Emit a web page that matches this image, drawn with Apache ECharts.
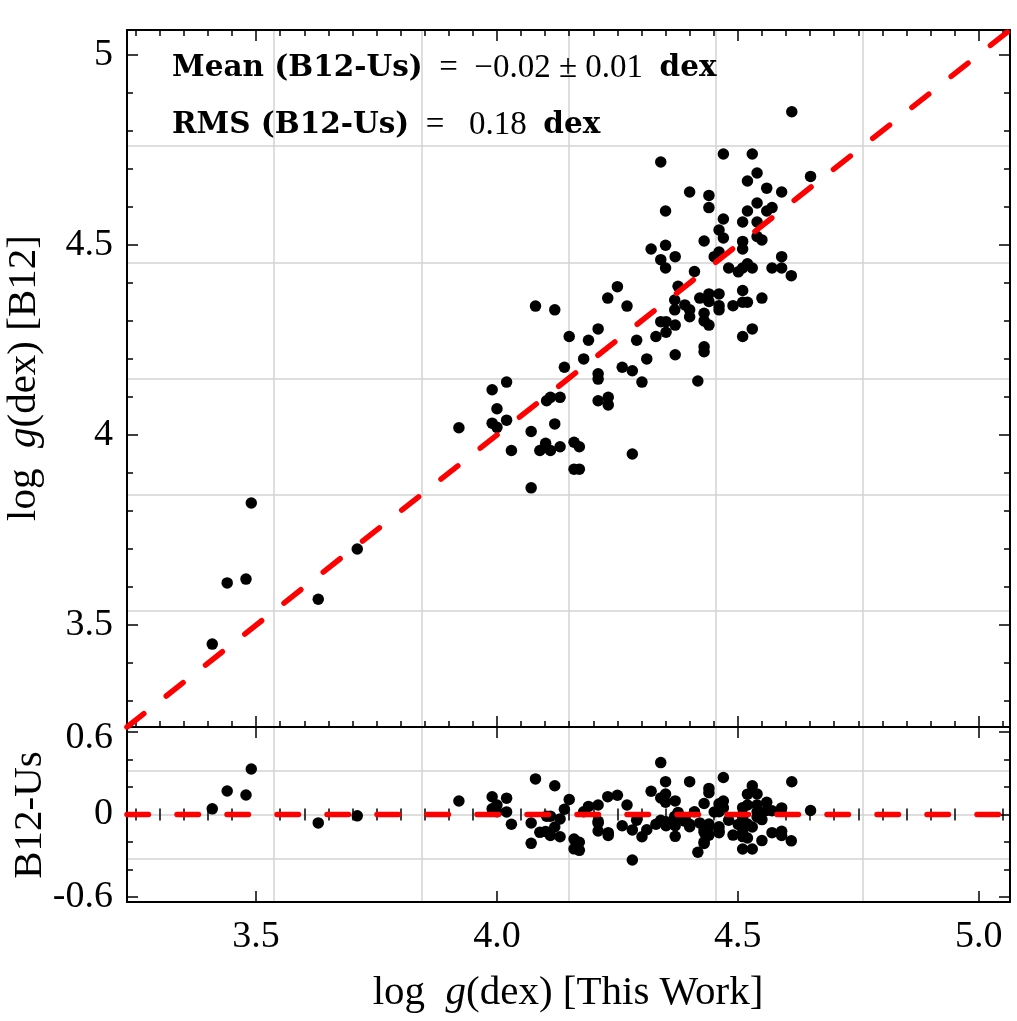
<!DOCTYPE html>
<html><head><meta charset="utf-8">
<script src="https://cdn.jsdelivr.net/npm/echarts@6/dist/echarts.min.js"></script>
<style>html,body{margin:0;padding:0;background:#fff}#c{width:1017px;height:1021px}</style>
</head><body><div id="c"></div><script>
// log g (dex) from This Work (x) and from B12 (y)
const thisWork = [3.409,3.440,3.479,3.490,3.629,3.710,
4.140,4.260,4.281,4.301,4.210,4.210,4.020,3.990,4.000,4.020,3.990,4.000,3.921,4.103,4.111,4.131,4.120,4.071,4.210,4.231,4.231,
4.030,4.089,4.101,4.111,4.131,4.160,4.171,4.160,4.171,4.281,4.071,
4.080,4.120,4.250,4.230,4.270,4.376,4.369,4.369,4.150,4.190,4.210,4.290,4.340,4.351,4.370,4.351,4.330,4.180,4.370,4.311,
4.340,4.470,4.530,4.540,4.520,4.651,4.560,4.591,4.400,4.440,4.440,4.350,4.540,4.520,4.560,4.571,4.470,4.510,4.540,4.461,
4.470,4.430,4.540,4.550,4.510,4.510,4.461,4.451,4.320,4.350,4.370,4.340,4.350,4.481,4.501,4.510,4.520,4.530,4.591,4.571,
4.591,4.611,4.410,4.390,4.400,4.400,4.421,4.440,4.461,4.440,4.461,4.461,4.490,4.510,4.510,4.520,4.550,4.430,4.430,4.440,
4.530,4.510,4.430,4.430,4.612,4.417];
const b12 = [3.450,3.611,3.621,3.821,3.568,3.700,
4.178,4.178,4.169,4.139,4.161,4.147,4.139,4.119,4.069,4.039,4.031,4.020,4.019,4.090,4.099,4.099,4.029,4.009,4.090,4.099,4.079,
3.959,3.959,3.978,3.959,3.969,3.981,3.969,3.910,3.910,3.950,3.861,
4.339,4.329,4.390,4.360,4.339,4.391,4.355,4.329,4.259,4.249,4.279,4.249,4.298,4.298,4.289,4.270,4.259,4.200,4.211,4.200,
4.718,4.739,4.739,4.689,4.668,4.680,4.649,4.639,4.639,4.630,4.598,4.589,4.610,4.589,4.589,4.598,4.568,4.560,4.560,4.539,
4.518,4.510,4.522,4.513,4.509,4.489,4.481,4.469,4.489,4.499,4.469,4.461,4.439,4.439,4.429,4.439,4.450,4.439,4.469,4.439,
4.439,4.419,4.430,4.342,4.329,4.311,4.360,4.371,4.371,4.351,4.340,4.329,4.340,4.380,4.349,4.349,4.360,4.320,4.300,4.289,
4.279,4.259,4.232,4.219,4.850,4.142];

const xTicks = [3.5, 4.0, 4.5, 5.0];
const yTicks = [3.5, 4, 4.5, 5];
const rTicks = [-0.6, 0, 0.6];
const rMinorTicks = [-0.4, -0.2, 0.2, 0.4];
const lim = [3.232, 5.065];
const rLim = [-0.637, 0.637];

const xMinorTicks = [], yMinorTicks = [];
for (let i = 65; i <= 101; i++) { const v = +(i * 0.05).toFixed(2); if (!xTicks.includes(v)) xMinorTicks.push(v); }
for (let i = 33; i <= 50; i++) { const v = +(i * 0.1).toFixed(1); if (!yTicks.includes(v)) yMinorTicks.push(v); }

const mainPts = thisWork.map((x, i) => [x, b12[i]]);
const resPts = thisWork.map((x, i) => [x, +(b12[i] - x).toFixed(3)]);

const FONT = '"Liberation Serif", "Times New Roman", serif';
const BOLD = '"DejaVu Serif", serif';
const BLACK = '#000';
const tickStyle = { color: BLACK, width: 1.5 };
const gridColor = '#d3d3d3';

function xAxes(g, showLabel) {
  const base = { gridIndex: g, type: 'value', min: lim[0], max: lim[1], splitLine: { show: false } };
  return [
    Object.assign({}, base, { position: 'bottom',
      axisLine: { show: true, onZero: false, lineStyle: { color: BLACK, width: 2 } },
      axisTick: { show: true, inside: true, length: 11, customValues: xTicks, lineStyle: tickStyle },
      axisLabel: { show: showLabel, customValues: xTicks, margin: 16, color: BLACK, fontFamily: FONT, fontSize: 38,
        formatter: v => v.toFixed(1) } }),
    Object.assign({}, base, { position: 'bottom', axisLine: { show: false },
      axisTick: { show: true, inside: true, length: 6, customValues: xMinorTicks, lineStyle: tickStyle },
      axisLabel: { show: false } }),
    Object.assign({}, base, { position: 'top',
      axisLine: { show: true, onZero: false, lineStyle: { color: BLACK, width: 2 } },
      axisTick: { show: true, inside: true, length: 11, customValues: xTicks, lineStyle: tickStyle },
      axisLabel: { show: false } }),
    Object.assign({}, base, { position: 'top', axisLine: { show: false },
      axisTick: { show: true, inside: true, length: 6, customValues: xMinorTicks, lineStyle: tickStyle },
      axisLabel: { show: false } }),
    { gridIndex: g, type: 'value', min: 0, max: 6, interval: 1, position: 'bottom',
      axisLine: { show: false }, axisTick: { show: false }, axisLabel: { show: false },
      splitLine: { show: true, lineStyle: { color: gridColor, width: 1.5 } } }
  ];
}
function yAxes(g, range, major, minor, fmt, nGrid) {
  const base = { gridIndex: g, type: 'value', min: range[0], max: range[1], splitLine: { show: false } };
  return [
    Object.assign({}, base, { position: 'left',
      axisLine: { show: true, onZero: false, lineStyle: { color: BLACK, width: 2 } },
      axisTick: { show: true, inside: true, length: 11, customValues: major, lineStyle: tickStyle },
      axisLabel: { show: true, customValues: major, margin: 14, color: BLACK, fontFamily: FONT, fontSize: 38,
        formatter: fmt, rich: { d: { fontFamily: FONT, fontSize: 38, color: BLACK, padding: [12, 0, 0, 0] } } } }),
    Object.assign({}, base, { position: 'left', axisLine: { show: false },
      axisTick: { show: true, inside: true, length: 6, customValues: minor, lineStyle: tickStyle },
      axisLabel: { show: false } }),
    Object.assign({}, base, { position: 'right',
      axisLine: { show: true, onZero: false, lineStyle: { color: BLACK, width: 2 } },
      axisTick: { show: true, inside: true, length: 11, customValues: major, lineStyle: tickStyle },
      axisLabel: { show: false } }),
    Object.assign({}, base, { position: 'right', axisLine: { show: false },
      axisTick: { show: true, inside: true, length: 6, customValues: minor, lineStyle: tickStyle },
      axisLabel: { show: false } }),
    { gridIndex: g, type: 'value', min: 0, max: nGrid, interval: 1, position: 'left',
      axisLine: { show: false }, axisTick: { show: false }, axisLabel: { show: false },
      splitLine: { show: true, lineStyle: { color: gridColor, width: 1.5 } } }
  ];
}

const chart = echarts.init(document.getElementById('c'), null, { renderer: 'canvas' });
const dash = { color: '#ff0000', width: 5.5, type: [21.5, 28.5], cap: 'round' };
const dot = { color: BLACK, opacity: 1 };
const annRich = {
  b: { fontFamily: BOLD, fontWeight: 'bold', fontSize: 29.5, fill: BLACK, color: BLACK },
  n: { fontFamily: FONT, fontSize: 33, fill: BLACK, color: BLACK }
};
const titleRich = {
  n: { fontFamily: FONT, fontSize: 41, fill: BLACK, color: BLACK },
  i: { fontFamily: FONT, fontStyle: 'italic', fontSize: 41, fill: BLACK, color: BLACK }
};
chart.setOption({
  animation: false,
  backgroundColor: '#fff',
  grid: [
    { left: 127, top: 30, width: 883, height: 697 },
    { left: 127, top: 727, width: 883, height: 175 }
  ],
  xAxis: [].concat(xAxes(0, false), xAxes(1, true)),
  yAxis: [].concat(
    yAxes(0, lim, yTicks, yMinorTicks, v => String(v), 6),
    yAxes(1, rLim, rTicks, rMinorTicks, v => (v === 0.6 ? '{d|0.6}' : String(v)), 4)),
  series: [
    { type: 'scatter', xAxisIndex: 0, yAxisIndex: 0, data: mainPts, symbolSize: 11.5,
      itemStyle: dot, z: 3 },
    { type: 'line', xAxisIndex: 0, yAxisIndex: 0, data: [[lim[0], lim[0]], [lim[1], lim[1]]],
      symbol: 'none', lineStyle: dash, z: 4 },
    { type: 'scatter', xAxisIndex: 5, yAxisIndex: 5, data: resPts, symbolSize: 11.5,
      itemStyle: dot, z: 3 },
    { type: 'line', xAxisIndex: 5, yAxisIndex: 5, data: [[lim[0], 0], [lim[1], 0]],
      symbol: 'none', lineStyle: dash, z: 4 }
  ],
  graphic: [
    { type: 'text', x: 172, y: 68, z: 10, style: {
      text: '{b|Mean (B12-Us)}{n|  =  −0.02 ± 0.01  }{b|dex}', verticalAlign: 'middle', textVerticalAlign: 'middle',
      rich: annRich } },
    { type: 'text', x: 172, y: 125, z: 10, style: {
      text: '{b|RMS (B12-Us)}{n|  =   0.18  }{b|dex}', verticalAlign: 'middle', textVerticalAlign: 'middle',
      rich: annRich } },
    { type: 'text', x: 568, y: 993, z: 10, style: {
      text: '{n|log  }{i|g}{n|(dex) [This Work]}', align: 'center', textAlign: 'center', verticalAlign: 'middle', textVerticalAlign: 'middle',
      rich: titleRich } },
    { type: 'text', x: 24, y: 378, rotation: Math.PI / 2, z: 10, style: {
      text: '{n|log  }{i|g}{n|(dex) [B12]}', align: 'center', textAlign: 'center', verticalAlign: 'middle', textVerticalAlign: 'middle',
      rich: titleRich } },
    { type: 'text', x: 30, y: 815, rotation: Math.PI / 2, z: 10, style: {
      text: 'B12-Us', align: 'center', textAlign: 'center', verticalAlign: 'middle', textVerticalAlign: 'middle',
      fontFamily: FONT, fontSize: 41, fill: BLACK } }
  ]
});
</script></body></html>
